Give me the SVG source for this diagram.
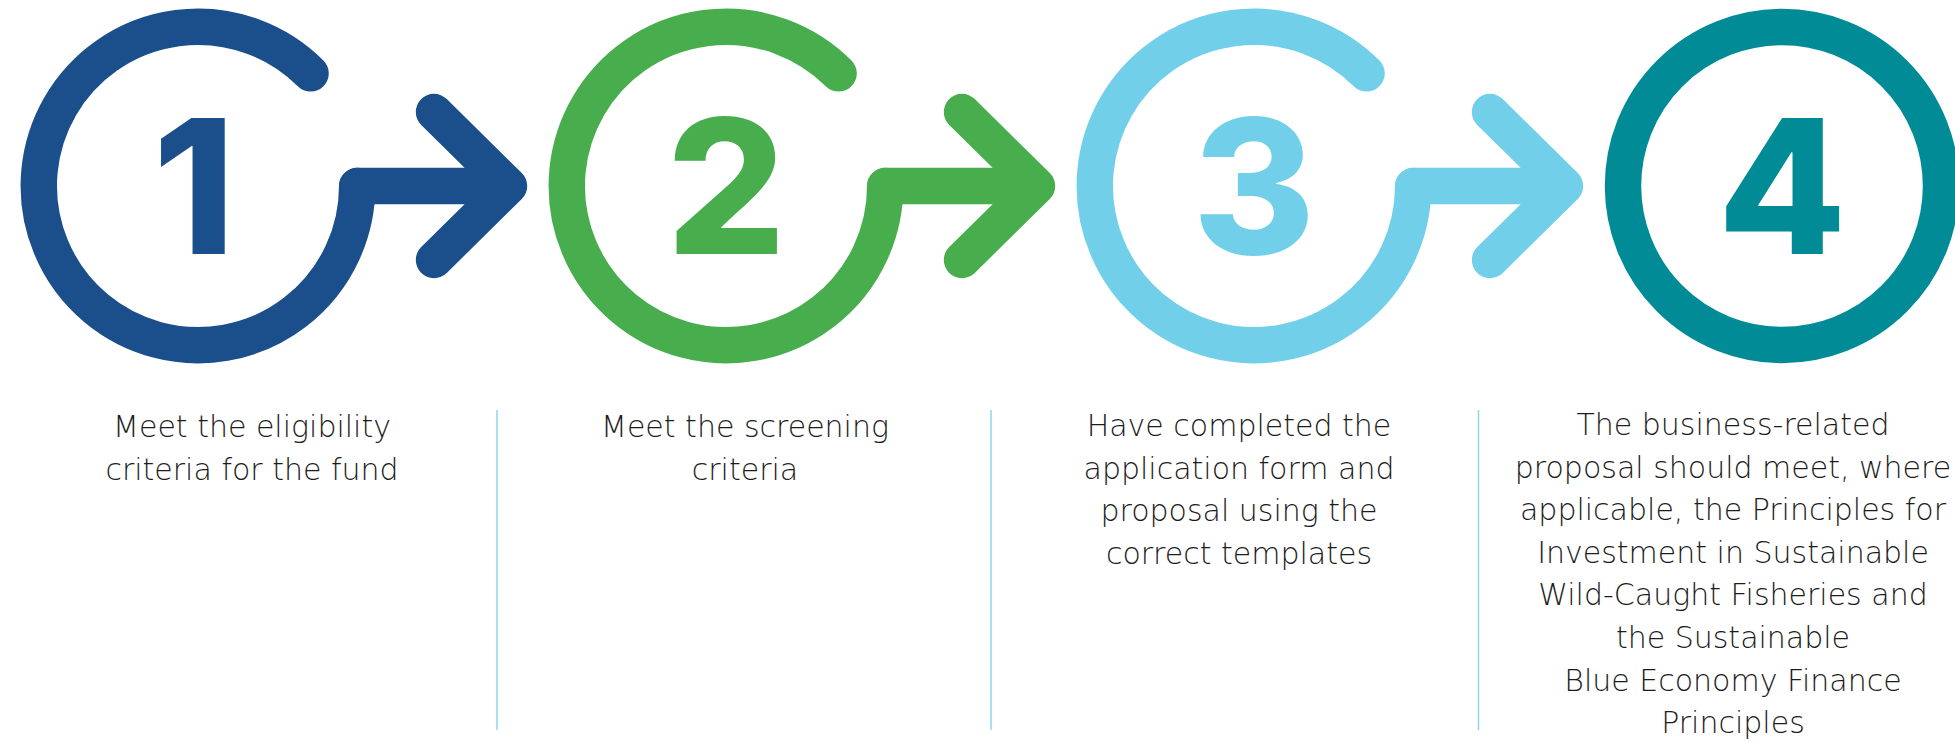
<svg xmlns="http://www.w3.org/2000/svg" width="1955" height="741" viewBox="0 0 1955 741">
<style>
.ring{fill:none;stroke-width:36.4;stroke-linecap:round;stroke-linejoin:round}
.conn{fill:none;stroke-width:36.4;stroke-linecap:round;stroke-linejoin:round}
.digit{font-family:Inter,"Liberation Sans",sans-serif;font-weight:800;font-size:187px;text-anchor:middle}
.lbl{font-family:"DejaVu Sans",sans-serif;font-weight:200;font-size:30px;fill:#1c1c1c;text-anchor:middle}
.div{stroke:#8fd5ec;stroke-width:1.5}
.c1{stroke:#1a4f8b}.c2{stroke:#47ad4d}.c3{stroke:#71cfea}.c4{stroke:#008b96}
</style>
<rect width="1955" height="741" fill="#fff"/>
<g id="node1">
<path class="ring c1" d="M310.6,73.4 A159.2,159.2 0 1 0 357.2,186"/>
<text class="digit" x="194" y="254" fill="#1a4f8b">1</text>
<text class="lbl" x="252" y="437">Meet the eligibility</text>
<text class="lbl" x="252" y="480">criteria for the fund</text>
</g>
<g id="node2">
<path class="ring c2" d="M838.6,73.4 A159.2,159.2 0 1 0 885.2,186"/>
<text class="digit" x="726" y="254" fill="#47ad4d">2</text>
<text class="lbl" x="745" y="437">Meet the screening</text>
<text class="lbl" x="745" y="480">criteria</text>
</g>
<g id="node3">
<path class="ring c3" d="M1366.6,73.4 A159.2,159.2 0 1 0 1413.2,186"/>
<text class="digit" x="1254" y="254" fill="#71cfea">3</text>
<text class="lbl" x="1239" y="436">Have completed the</text>
<text class="lbl" x="1239" y="478.5">application form and</text>
<text class="lbl" x="1239" y="521">proposal using the</text>
<text class="lbl" x="1239" y="563.5">correct templates</text>
</g>
<g id="node4">
<circle class="ring c4" cx="1782" cy="186" r="159"/>
<text class="digit" x="1782" y="254" fill="#008b96">4</text>
<text class="lbl" x="1733" y="435">The business-related</text>
<text class="lbl" x="1733" y="477.6">proposal should meet, where</text>
<text class="lbl" x="1733" y="520.2">applicable, the Principles for</text>
<text class="lbl" x="1733" y="562.8">Investment in Sustainable</text>
<text class="lbl" x="1733" y="605.4">Wild-Caught Fisheries and</text>
<text class="lbl" x="1733" y="648">the Sustainable</text>
<text class="lbl" x="1733" y="690.6">Blue Economy Finance</text>
<text class="lbl" x="1733" y="733.2">Principles</text>
</g>
<g id="connectors">
<path class="conn c1" d="M357.2,186 L509,186 M434,112 L509,186 L434,260"/>
<path class="conn c2" d="M885.2,186 L1037,186 M962,112 L1037,186 L962,260"/>
<path class="conn c3" d="M1413.2,186 L1565,186 M1490,112 L1565,186 L1490,260"/>
</g>
<g id="dividers">
<line class="div" x1="497" y1="410" x2="497" y2="730"/>
<line class="div" x1="991" y1="410" x2="991" y2="730"/>
<line class="div" x1="1478.5" y1="410" x2="1478.5" y2="730"/>
</g>
</svg>
